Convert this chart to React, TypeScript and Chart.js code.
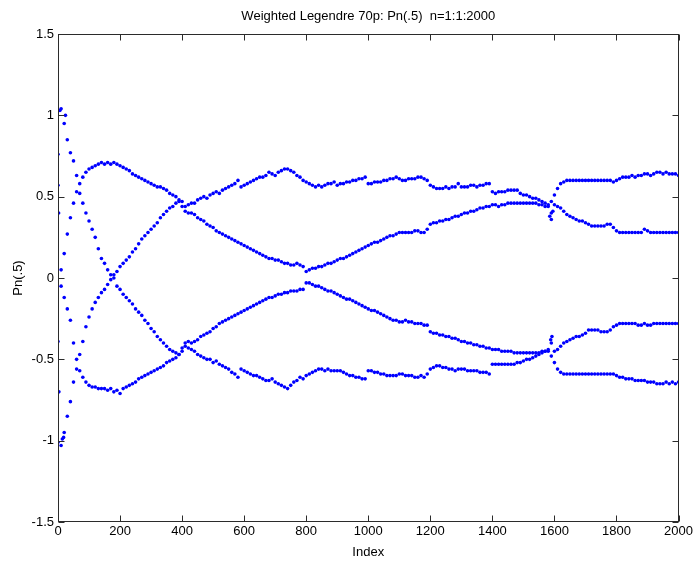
import React, { useEffect, useRef } from "react";
import { Chart, registerables } from "chart.js";
Chart.register(...registerables);

const TITLE = "Weighted Legendre 70p: Pn(.5)  n=1:1:2000";
const X_LABEL = "Index";
const Y_LABEL = "Pn(.5)";
const X_TICKS = [0, 200, 400, 600, 800, 1000, 1200, 1400, 1600, 1800, 2000];
const Y_TICKS = [-1.5, -1, -0.5, 0, 0.5, 1, 1.5];
const STEP = 10; // index spacing of the sampled values below (0,10,20,...,2000)

// branch that rises to the hump (~0.7), then upper-middle
const branchA = [
  0.57, 0.05, 0.15, 0.27, 0.37, 0.46, 0.53, 0.58, 0.62, 0.65,
  0.67, 0.68, 0.69, 0.70, 0.71, 0.70, 0.71, 0.70, 0.71, 0.70,
  0.69, 0.68, 0.67, 0.66, 0.64, 0.63, 0.62, 0.61, 0.60, 0.59,
  0.58, 0.57, 0.56, 0.56, 0.55, 0.54, 0.52, 0.51, 0.50, 0.48,
  0.44, 0.41, 0.40, 0.40, 0.39, 0.37, 0.36, 0.35, 0.33, 0.32,
  0.31, 0.29, 0.28, 0.27, 0.26, 0.25, 0.24, 0.23, 0.22, 0.21,
  0.20, 0.19, 0.18, 0.17, 0.16, 0.15, 0.14, 0.13, 0.12, 0.12,
  0.11, 0.11, 0.10, 0.09, 0.09, 0.08, 0.08, 0.09, 0.08, 0.07,
  0.04, 0.05, 0.06, 0.06, 0.07, 0.07, 0.08, 0.09, 0.09, 0.10,
  0.11, 0.12, 0.12, 0.13, 0.14, 0.15, 0.16, 0.17, 0.18, 0.19,
  0.20, 0.21, 0.22, 0.22, 0.23, 0.24, 0.25, 0.26, 0.26, 0.27,
  0.28, 0.28, 0.28, 0.28, 0.28, 0.29, 0.29, 0.28, 0.28, 0.30,
  0.33, 0.34, 0.34, 0.35, 0.35, 0.36, 0.36, 0.37, 0.38, 0.38,
  0.39, 0.40, 0.40, 0.41, 0.41, 0.42, 0.43, 0.43, 0.44, 0.44,
  0.45, 0.45, 0.44, 0.45, 0.45, 0.46, 0.46, 0.46, 0.46, 0.46,
  0.46, 0.46, 0.46, 0.46, 0.46, 0.45, 0.45, 0.44, 0.44, 0.40,
  0.45, 0.44, 0.43, 0.41, 0.39, 0.38, 0.37, 0.36, 0.35, 0.35,
  0.34, 0.33, 0.32, 0.32, 0.32, 0.32, 0.32, 0.33, 0.33, 0.31,
  0.29, 0.28, 0.28, 0.28, 0.28, 0.28, 0.28, 0.28, 0.28, 0.30,
  0.29, 0.28, 0.28, 0.28, 0.28, 0.28, 0.28, 0.28, 0.28, 0.28,
  0.28,
];

// branch rising from -1, then the top branch
const branchB = [
  -1.01, -1.03, -0.95, -0.85, -0.76, -0.64, -0.56, -0.47, -0.39, -0.30,
  -0.24, -0.19, -0.15, -0.12, -0.09, -0.07, -0.04, -0.01, 0.02, 0.04,
  0.07, 0.09, 0.11, 0.13, 0.16, 0.18, 0.21, 0.24, 0.26, 0.28,
  0.30, 0.32, 0.34, 0.37, 0.39, 0.41, 0.43, 0.44, 0.46, 0.47,
  0.47, 0.44, 0.45, 0.46, 0.46, 0.48, 0.49, 0.50, 0.49, 0.51,
  0.52, 0.53, 0.52, 0.54, 0.55, 0.56, 0.57, 0.58, 0.60, 0.56,
  0.57, 0.58, 0.59, 0.60, 0.61, 0.62, 0.62, 0.63, 0.65, 0.64,
  0.63, 0.65, 0.66, 0.67, 0.67, 0.66, 0.65, 0.63, 0.62, 0.60,
  0.59, 0.58, 0.57, 0.56, 0.57, 0.56, 0.57, 0.58, 0.58, 0.59,
  0.57, 0.58, 0.58, 0.59, 0.59, 0.60, 0.60, 0.61, 0.61, 0.62,
  0.58, 0.58, 0.59, 0.59, 0.59, 0.60, 0.60, 0.61, 0.61, 0.62,
  0.61, 0.60, 0.60, 0.61, 0.61, 0.61, 0.62, 0.62, 0.61, 0.60,
  0.57, 0.56, 0.55, 0.55, 0.55, 0.56, 0.55, 0.56, 0.56, 0.58,
  0.56, 0.56, 0.56, 0.57, 0.57, 0.56, 0.57, 0.57, 0.58, 0.58,
  0.53, 0.52, 0.53, 0.53, 0.53, 0.54, 0.54, 0.54, 0.54, 0.52,
  0.51, 0.51, 0.50, 0.49, 0.49, 0.48, 0.47, 0.46, 0.45, 0.47,
  0.51, 0.55, 0.58, 0.59, 0.60, 0.60, 0.60, 0.60, 0.60, 0.60,
  0.60, 0.60, 0.60, 0.60, 0.60, 0.60, 0.60, 0.60, 0.60, 0.59,
  0.60, 0.61, 0.62, 0.62, 0.62, 0.63, 0.62, 0.63, 0.63, 0.64,
  0.64, 0.63, 0.64, 0.65, 0.65, 0.64, 0.65, 0.64, 0.64, 0.64,
  0.63,
];

// branch falling from 1.04, then the bottom branch
const branchC = [
  0.76, 1.04, 0.95, 0.85, 0.77, 0.72, 0.63, 0.52, 0.46, 0.40,
  0.35, 0.30, 0.25, 0.18, 0.12, 0.09, 0.05, 0.02, 0.00, -0.05,
  -0.07, -0.10, -0.12, -0.14, -0.16, -0.19, -0.21, -0.23, -0.26, -0.28,
  -0.31, -0.33, -0.36, -0.38, -0.40, -0.42, -0.44, -0.45, -0.46, -0.47,
  -0.45, -0.42, -0.43, -0.44, -0.45, -0.47, -0.48, -0.49, -0.50, -0.50,
  -0.52, -0.51, -0.53, -0.54, -0.55, -0.56, -0.58, -0.59, -0.61, -0.56,
  -0.57, -0.58, -0.59, -0.60, -0.60, -0.61, -0.62, -0.63, -0.63, -0.62,
  -0.64, -0.65, -0.66, -0.67, -0.68, -0.66, -0.64, -0.63, -0.61, -0.62,
  -0.60, -0.59, -0.58, -0.57, -0.56, -0.56, -0.57, -0.56, -0.57, -0.57,
  -0.57, -0.57, -0.58, -0.59, -0.60, -0.60, -0.61, -0.61, -0.62, -0.62,
  -0.57, -0.57, -0.58, -0.58, -0.59, -0.59, -0.60, -0.60, -0.60, -0.60,
  -0.59, -0.59, -0.60, -0.60, -0.60, -0.61, -0.61, -0.60, -0.61, -0.59,
  -0.56, -0.55, -0.54, -0.54, -0.55, -0.55, -0.56, -0.56, -0.57, -0.56,
  -0.56, -0.56, -0.57, -0.57, -0.57, -0.57, -0.58, -0.58, -0.58, -0.59,
  -0.53, -0.53, -0.53, -0.53, -0.53, -0.53, -0.53, -0.53, -0.52, -0.52,
  -0.51, -0.50, -0.50, -0.49, -0.48, -0.47, -0.46, -0.45, -0.45, -0.48,
  -0.52, -0.56, -0.58, -0.59, -0.59, -0.59, -0.59, -0.59, -0.59, -0.59,
  -0.59, -0.59, -0.59, -0.59, -0.59, -0.59, -0.59, -0.59, -0.59, -0.59,
  -0.60, -0.61, -0.61, -0.62, -0.62, -0.62, -0.63, -0.63, -0.63, -0.63,
  -0.64, -0.64, -0.64, -0.65, -0.65, -0.65, -0.64, -0.65, -0.64, -0.65,
  -0.64,
];

// branch falling to the trough (~-0.7), then lower-middle
const branchD = [
  -0.39, -0.05, -0.12, -0.19, -0.26, -0.40, -0.50, -0.57, -0.61, -0.64,
  -0.66, -0.67, -0.67, -0.68, -0.68, -0.68, -0.69, -0.68, -0.70, -0.69,
  -0.71, -0.68, -0.67, -0.66, -0.65, -0.64, -0.62, -0.61, -0.60, -0.59,
  -0.58, -0.57, -0.56, -0.55, -0.54, -0.52, -0.51, -0.50, -0.49, -0.47,
  -0.43, -0.40, -0.39, -0.40, -0.39, -0.38, -0.36, -0.35, -0.34, -0.33,
  -0.31, -0.30, -0.28, -0.27, -0.26, -0.25, -0.24, -0.23, -0.22, -0.21,
  -0.20, -0.19, -0.18, -0.17, -0.16, -0.15, -0.14, -0.13, -0.12, -0.12,
  -0.11, -0.10, -0.10, -0.09, -0.09, -0.08, -0.08, -0.08, -0.07, -0.07,
  -0.03, -0.03, -0.04, -0.05, -0.05, -0.06, -0.07, -0.08, -0.08, -0.09,
  -0.10, -0.11, -0.12, -0.13, -0.13, -0.14, -0.15, -0.16, -0.17, -0.18,
  -0.19, -0.20, -0.20, -0.21, -0.22, -0.23, -0.24, -0.25, -0.26, -0.26,
  -0.27, -0.27, -0.26, -0.27, -0.27, -0.28, -0.28, -0.28, -0.29, -0.29,
  -0.33, -0.34, -0.34, -0.35, -0.35, -0.36, -0.36, -0.37, -0.37, -0.38,
  -0.39, -0.39, -0.40, -0.40, -0.41, -0.41, -0.42, -0.42, -0.43, -0.43,
  -0.44, -0.44, -0.44, -0.45, -0.45, -0.45, -0.45, -0.46, -0.46, -0.46,
  -0.46, -0.46, -0.46, -0.46, -0.46, -0.46, -0.45, -0.45, -0.44, -0.40,
  -0.45, -0.44, -0.42, -0.40, -0.39, -0.38, -0.37, -0.36, -0.36, -0.35,
  -0.34, -0.32, -0.32, -0.32, -0.32, -0.33, -0.33, -0.33, -0.32, -0.30,
  -0.29, -0.28, -0.28, -0.28, -0.28, -0.28, -0.28, -0.29, -0.29, -0.28,
  -0.29, -0.29, -0.28, -0.28, -0.28, -0.28, -0.28, -0.28, -0.28, -0.28,
  -0.28,
];

// scattered points off the main branches
const extraIdx = [2, 3, 6, 14, 18, 24, 1585, 1590, 1595, 1588, 1592];
const extraVal = [0.40, -0.70, 1.03, -0.99, -0.98, 1.00, 0.38, 0.36, 0.41, -0.38, -0.36];

const FONT = "'Liberation Sans', Arial, Helvetica, sans-serif";
const BLUE = "#0000ff";

const toPts = (vals: number[]) => vals.map((v, i) => ({ x: i * STEP, y: v }));

const frame = {
  id: "matlabFrame",
  afterDraw(chart: any) {
    const { ctx, chartArea: a, scales } = chart;
    ctx.save();
    ctx.strokeStyle = "#2b2b2b";
    ctx.lineWidth = 1;
    const L = Math.round(a.left) + 0.5, R = Math.round(a.right) - 0.5;
    const T = Math.round(a.top) + 0.5, B = Math.round(a.bottom) - 0.5;
    ctx.beginPath();
    for (const v of X_TICKS) {
      const px = Math.round(scales.x.getPixelForValue(v)) + 0.5;
      ctx.moveTo(px, B); ctx.lineTo(px, B - 6);
      ctx.moveTo(px, T); ctx.lineTo(px, T + 6);
    }
    for (const v of Y_TICKS) {
      const py = Math.round(scales.y.getPixelForValue(v)) + 0.5;
      ctx.moveTo(L, py); ctx.lineTo(L + 6, py);
      ctx.moveTo(R, py); ctx.lineTo(R - 6, py);
    }
    ctx.stroke();
    ctx.strokeRect(L, T, R - L, B - T);
    ctx.fillStyle = "#000";
    ctx.font = `13px ${FONT}`;
    ctx.textAlign = "center";
    ctx.textBaseline = "middle";
    ctx.fillText(TITLE, (a.left + a.right) / 2, 16);
    ctx.restore();
  },
};

export default function App() {
  const ref = useRef<HTMLCanvasElement>(null);
  useEffect(() => {
    document.body.style.margin = "0";
    const ds = (data: any[]) => ({
      data,
      backgroundColor: BLUE,
      borderColor: BLUE,
      pointRadius: 1.8,
      pointBorderWidth: 0,
      pointHoverRadius: 1.8,
      showLine: false,
    });
    const chart = new Chart(ref.current!, {
      type: "scatter",
      data: {
        datasets: [
          ds(toPts(branchA)),
          ds(toPts(branchB)),
          ds(toPts(branchC)),
          ds(toPts(branchD)),
          ds(extraIdx.map((x, i) => ({ x, y: extraVal[i] }))),
        ],
      },
      options: {
        responsive: false,
        animation: false,
        layout: { padding: { top: 34, right: 16, left: 0, bottom: 0 } },
        plugins: { legend: { display: false }, tooltip: { enabled: false }, title: { display: false } },
        scales: {
          x: {
            type: "linear",
            min: 0,
            max: 2000,
            grid: { display: false, drawTicks: false, tickLength: 0 },
            border: { display: false },
            afterBuildTicks: (s: any) => { s.ticks = X_TICKS.map((v) => ({ value: v })); },
            afterFit: (s: any) => { s.height = 39; },
            ticks: { color: "#000", font: { size: 13, family: FONT }, padding: 2, maxRotation: 0, autoSkip: false, callback: (v: any) => String(v) },
            title: { display: true, text: X_LABEL, color: "#000", font: { size: 13, family: FONT }, padding: { top: 0, bottom: 1 } },
          },
          y: {
            type: "linear",
            min: -1.5,
            max: 1.5,
            grid: { display: false, drawTicks: false, tickLength: 0 },
            border: { display: false },
            afterBuildTicks: (s: any) => { s.ticks = Y_TICKS.map((v) => ({ value: v })); },
            afterFit: (s: any) => { s.width = 58; },
            ticks: { color: "#000", font: { size: 13, family: FONT }, padding: 4, autoSkip: false, callback: (v: any) => String(v) },
            title: { display: true, text: Y_LABEL, color: "#000", font: { size: 13, family: FONT }, padding: { top: 11, bottom: 0 } },
          },
        },
      },
      plugins: [frame],
    });
    return () => chart.destroy();
  }, []);
  return (
    <div style={{ width: 695, height: 561, background: "#fff" }}>
      <canvas ref={ref} width={695} height={561} />
    </div>
  );
}
